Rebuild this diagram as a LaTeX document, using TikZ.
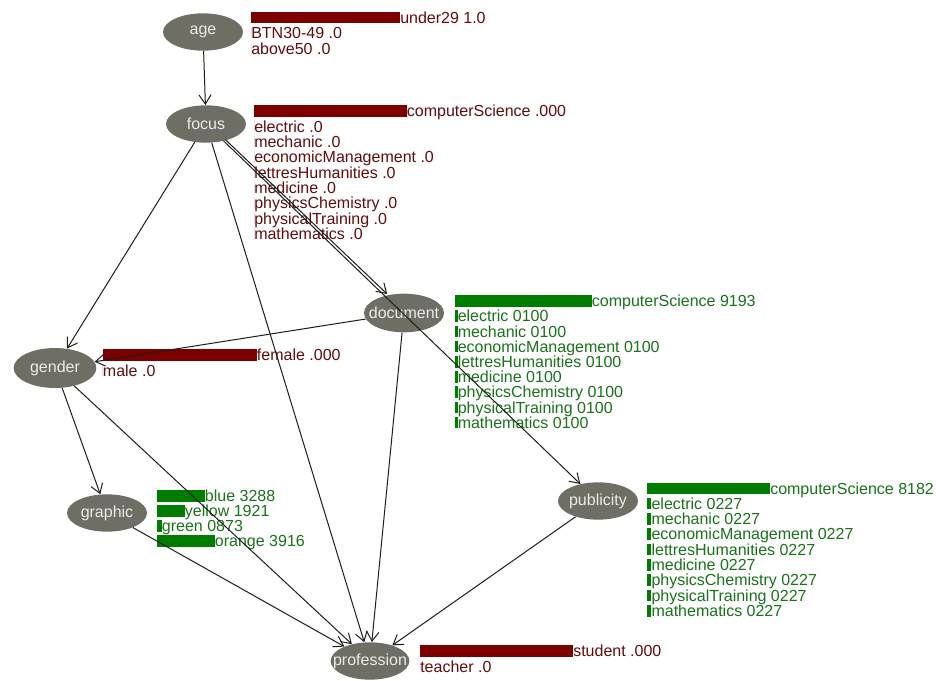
\documentclass[tikz,border=0pt]{standalone}
\usepackage{fontspec}
\setmainfont{Liberation Sans}
\usetikzlibrary{shapes.geometric,arrows.meta}
\definecolor{nodegray}{RGB}{110,110,100}
\definecolor{nodetext}{RGB}{235,235,235}
\definecolor{barred}{RGB}{125,0,0}
\definecolor{txtred}{RGB}{100,12,12}
\definecolor{bargreen}{RGB}{0,125,0}
\definecolor{txtgreen}{RGB}{25,115,25}
\definecolor{edgecol}{RGB}{30,30,30}
\tikzset{
  bn/.style={ellipse, fill=nodegray, text=nodetext, minimum width=60pt, minimum height=28pt, inner sep=0pt, font=\fontsize{12}{12}\selectfont},
  edge/.style={draw=edgecol, line width=0.75pt, -{Straight Barb[length=7pt,width=9pt]}},
  redtxt/.style={text=txtred, anchor=base west, inner sep=0pt, font=\fontsize{12}{12}\selectfont},
  greentxt/.style={text=txtgreen, anchor=base west, inner sep=0pt, font=\fontsize{12}{12}\selectfont},
  redbar/.style={fill=barred},
  greenbar/.style={fill=bargreen},
}
% #1 name, #2 x, #3 baseline y, #4 bar width, #5 red/green, #6 text
\newcommand{\probrow}[6]{%
  \fill[#5bar] (#2,#3-11.5) rectangle (#2+#4,#3);
  \node[#5txt] (#1) at (#2+#4,#3) {#6};
}
\begin{document}
\begin{tikzpicture}[x=0.75pt,y=-0.75pt]
\useasboundingbox (0,0) rectangle (936,681);
\clip (0,0) rectangle (936,681);
\fill[white] (0,0) rectangle (936,681);

% nodes
\node[bn] (age) at (203,32) {\makebox[0pt]{age}};
\node[bn] (focus) at (206,124) {\makebox[0pt]{focus}};
\node[bn, minimum height=29pt] (document) at (404,313) {\makebox[0pt]{document}};
\node[bn, minimum width=62pt, minimum height=30pt] (gender) at (55,368) {\makebox[0pt]{gender}};
\node[bn] (graphic) at (107,513) {\makebox[0pt]{graphic}};
\node[bn] (publicity) at (598,501) {\makebox[0pt]{publicity}};
\node[bn, minimum width=59pt] (profession) at (370,661) {\makebox[0pt]{profession}};

% age
\probrow{age0}{251}{23.5}{149}{red}{under29 1.0}
\probrow{age1}{251}{38.8}{0}{red}{BTN30-49 .0}
\probrow{age2}{251}{54.1}{0}{red}{above50 .0}

% focus
\probrow{focus0}{254}{116.7}{152.7}{red}{computerScience .000}
\foreach \t [count=\i] in {electric,mechanic,economicManagement,lettresHumanities,medicine,physicsChemistry,physicalTraining,mathematics}
  {\probrow{focus\i}{254}{116.7+15.33*\i}{0}{red}{\t\ .0}}

% document
\probrow{doc0}{455}{306.7}{136.7}{green}{computerScience 9193}
\foreach \t [count=\i] in {electric,mechanic,economicManagement,lettresHumanities,medicine,physicsChemistry,physicalTraining,mathematics}
  {\probrow{doc\i}{455}{306.7+15.2*\i}{2.5}{green}{\t\ 0100}}

% gender
\probrow{gen0}{102.7}{360.7}{154}{red}{female .000}
\probrow{gen1}{102.7}{376}{0}{red}{male .0}

% graphic
\probrow{gra0}{156.7}{501.7}{48}{green}{blue 3288}
\probrow{gra1}{156.7}{516.7}{28}{green}{yellow 1921}
\probrow{gra2}{156.7}{531.7}{5}{green}{green 0873}
\probrow{gra3}{156.7}{546.7}{58}{green}{orange 3916}

% publicity
\probrow{pub0}{647.3}{494}{122.7}{green}{computerScience 8182}
\foreach \t [count=\i] in {electric,mechanic,economicManagement,lettresHumanities,medicine,physicsChemistry,physicalTraining,mathematics}
  {\probrow{pub\i}{647.3}{494+15.33*\i}{4}{green}{\t\ 0227}}

% profession
\probrow{pro0}{420}{656.7}{153}{red}{student .000}
\probrow{pro1}{420}{672}{0}{red}{teacher .0}

% edges
\draw[edge] (age) -- (focus);
\draw[edge] (focus) -- (gender);
\draw[edge] (focus) -- (profession);
\draw[edge, transform canvas={xshift=1.1pt,yshift=1.1pt}] (focus) -- (document);
\draw[edge] (focus) -- (publicity);
\draw[edge] (document) -- (gender);
\draw[edge] (document) -- (profession);
\draw[edge] (gender) -- (graphic);
\draw[edge] (gender) -- (profession);
\draw[edge] (graphic) -- (profession);
\draw[edge] (publicity) -- (profession);
\end{tikzpicture}
\end{document}
